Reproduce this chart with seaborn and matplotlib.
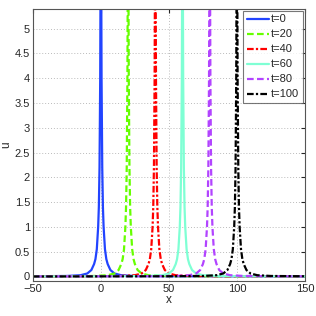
import numpy as np
import pandas as pd
import matplotlib
matplotlib.use('Agg')
import matplotlib.pyplot as plt
import seaborn as sns

# wave profile (offset from peak, amplitude)
offsets = [0, 0.5, 1, 1.5, 2, 3, 4, 5, 7, 10, 15, 25, 50, 150]
amps = [8.0, 4.0, 2.2, 1.4, 1.0, 0.55, 0.35, 0.25, 0.13, 0.06, 0.025, 0.01, 0.004, 0.0]
centers = [0, 20, 40, 60, 80, 100]
labels = ['t=0', 't=20', 't=40', 't=60', 't=80', 't=100']
colors = ['#2244ff', '#66ff00', '#ff0000', '#7fffd4', '#b244ff', '#000000']
styles = ['-', (0, (3, 1.5)), (0, (3, 1, 1, 1)), '-', (0, (3, 1.5)), (0, (3, 1, 1, 1))]

dx = np.array([-o for o in offsets[::-1]] + offsets[1:])
du = np.array(amps[::-1] + amps[1:])

sns.set_style("white")
plt.rcParams['font.family'] = ['Liberation Sans', 'DejaVu Sans']

fig = plt.figure(figsize=(3.16, 3.16), dpi=100)
ax = fig.add_axes([0.104, 0.111, 0.861, 0.861])

for c, lab, col, ls in zip(centers, labels, colors, styles):
    df = pd.DataFrame({'x': dx + c, 'u': du})
    sns.lineplot(data=df, x='x', y='u', ax=ax, color=col, linestyle=ls, lw=1.6, label=lab, sort=False)

ax.set_xlim(-50, 150)
ax.set_ylim(-0.09, 5.4)
ax.set_xticks([-50, 0, 50, 100, 150])
ax.set_yticks(np.arange(0, 5.01, 0.5))
ax.set_yticklabels(['0', '0.5', '1', '1.5', '2', '2.5', '3', '3.5', '4', '4.5', '5'])
ax.grid(True, linestyle=(0, (1, 2)), color='#bbbbbb', lw=0.7)
ax.tick_params(direction='in', labelsize=8, length=3, top=True, right=True, pad=2)
ax.set_xlabel('x', fontsize=8.5, labelpad=0)
ax.set_ylabel('u', fontsize=8.5, labelpad=2)
for s in ax.spines.values():
    s.set_color('#555555')
    s.set_linewidth(0.8)

leg = ax.legend(loc='upper right', fontsize=8, frameon=True, fancybox=False,
                edgecolor='#555555', handlelength=2.0, handletextpad=0.2,
                borderpad=0.3, labelspacing=0.45, borderaxespad=0.2)
leg.get_frame().set_linewidth(0.8)

fig.savefig('out.png', dpi=100)
